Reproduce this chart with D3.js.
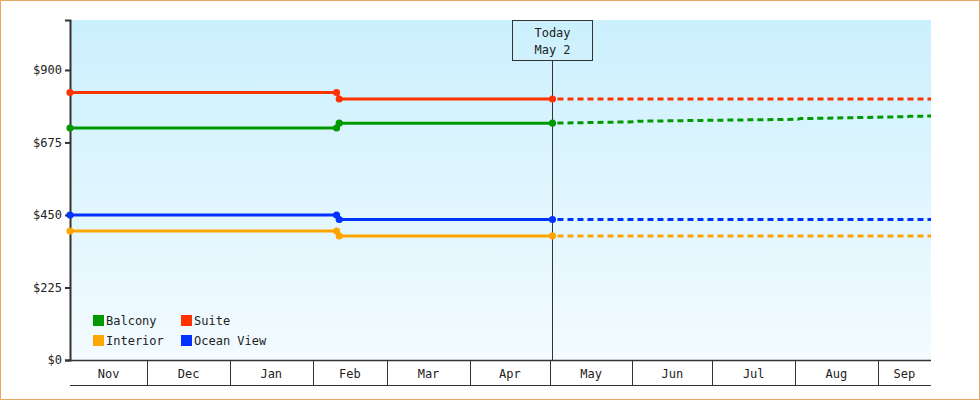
<!DOCTYPE html>
<html><head><meta charset="utf-8">
<script src="https://cdn.jsdelivr.net/npm/d3@7"></script>
<style>body{margin:0;background:#fff}svg{display:block}text{font-family:"DejaVu Sans Mono",monospace;font-size:12px;fill:#222}</style>
</head><body>
<svg id="c" width="980" height="400"></svg>
<script>
const seriesNames = ["Balcony","Suite","Interior","Ocean View"];
const seriesColors = ["#009900","#ff3300","#ffa500","#0033ff"];
const pastDates = ["2022-11-02","2023-02-10","2023-02-11","2023-05-02"];
const pastValues = {
  "Balcony":[720,720,735,735],
  "Suite":[830,830,810,810],
  "Interior":[400,400,385,385],
  "Ocean View":[450,450,436,436]
};
const futureDates = ["2023-05-02","2023-06-02","2023-06-03","2023-08-02","2023-08-03","2023-09-12","2023-09-13","2023-09-21"];
const futureValues = {
  "Balcony":[735,739,741,747,749,755,756,757],
  "Suite":[810,810,810,810,810,810,810,810],
  "Interior":[385,385,385,385,385,385,385,385],
  "Ocean View":[436,436,436,436,436,436,436,436]
};
const yTicks = [0,225,450,675,900];
const monthLabels = ["Nov","Dec","Jan","Feb","Mar","Apr","May","Jun","Jul","Aug","Sep"];
const todayDate = "2023-05-02";
const todayLabel = ["Today","May 2"];

const p = d3.timeParse("%Y-%m-%d");
const svg = d3.select("#c");
const L=70,R=931,T=20,B=360;
const x = d3.scaleTime().domain([p("2022-11-02"),p("2023-09-21")]).range([L,R]);
const y = d3.scaleLinear().domain([0,1055]).range([B,T]);

svg.append("rect").attr("x",0.5).attr("y",0.5).attr("width",979).attr("height",399).attr("fill","#fff").attr("stroke","#e8a860");
const g = svg.append("defs").append("linearGradient").attr("id","bg").attr("x1",0).attr("y1",0).attr("x2",0).attr("y2",1);
g.append("stop").attr("offset","0").attr("stop-color","#cbf0fd");
g.append("stop").attr("offset","1").attr("stop-color","#f3fbff");
svg.append("rect").attr("x",L).attr("y",T).attr("width",R-L).attr("height",B-T).attr("fill","url(#bg)");

// y axis
const ya = svg.append("g").attr("transform",`translate(${L},0)`).call(d3.axisLeft(y).tickValues(yTicks).tickSize(5).tickFormat(d=>"$"+d));
ya.select(".domain").attr("stroke","#333").attr("stroke-width",2);
ya.selectAll(".tick line").attr("stroke","#333").attr("stroke-width",2);
ya.selectAll("text").style("font-family","DejaVu Sans Mono").style("font-size","12px").attr("fill","#222");

// x axis bands
const months = d3.timeMonth.range(p("2022-11-01"),p("2023-10-01"));
const xa = svg.append("g");
xa.append("line").attr("x1",L).attr("x2",R).attr("y1",B+0.5).attr("y2",B+0.5).attr("stroke","#333").attr("stroke-width",1.5);
xa.append("line").attr("x1",L).attr("x2",R).attr("y1",385.5).attr("y2",385.5).attr("stroke","#333");
months.forEach((m,i)=>{
  const a=Math.max(L,x(m)), b=Math.min(R,x(d3.timeMonth.offset(m,1)));
  if(i>0) xa.append("line").attr("x1",Math.round(a)+0.5).attr("x2",Math.round(a)+0.5).attr("y1",B).attr("y2",385).attr("stroke","#333");
  xa.append("text").attr("x",(a+b)/2).attr("y",378).attr("text-anchor","middle").text(monthLabels[i]);
});

// today
const tx = Math.round(x(p(todayDate)))+0.5;
svg.append("line").attr("x1",tx).attr("x2",tx).attr("y1",60).attr("y2",B).attr("stroke","#333");
svg.append("rect").attr("x",tx-40).attr("y",20.5).attr("width",80).attr("height",40).attr("fill","none").attr("stroke","#333");
todayLabel.forEach((t,i)=>svg.append("text").attr("x",tx).attr("y",37+i*17).attr("text-anchor","middle").text(t));

const line = d3.line().x(d=>x(d[0])).y(d=>y(d[1]));
seriesNames.forEach((s,i)=>{
  const c=seriesColors[i];
  const past = pastDates.map((d,j)=>[p(d),pastValues[s][j]]);
  const fut = futureDates.map((d,j)=>[p(d),futureValues[s][j]]);
  svg.append("path").attr("d",line(fut)).attr("fill","none").attr("stroke",c).attr("stroke-width",3).attr("stroke-dasharray","6,4").attr("stroke-dashoffset",-5);
  svg.append("path").attr("d",line(past)).attr("fill","none").attr("stroke",c).attr("stroke-width",3);
  svg.selectAll(null).data(past).enter().append("path")
    .attr("transform",d=>`translate(${x(d[0])},${y(d[1])})`)
    .attr("d",d3.symbol(d3.symbolCircle,40)()).attr("fill",c);
});

// legend
const lg = [[0,93,320],[1,181,320],[2,93,340],[3,181,340]];
lg.forEach(([i,lx,ly])=>{
  svg.append("rect").attr("x",lx).attr("y",ly-5).attr("width",11).attr("height",11).attr("fill",seriesColors[i]);
  svg.append("text").attr("x",lx+13).attr("y",ly+5).text(seriesNames[i]);
});
</script>
</body></html>
